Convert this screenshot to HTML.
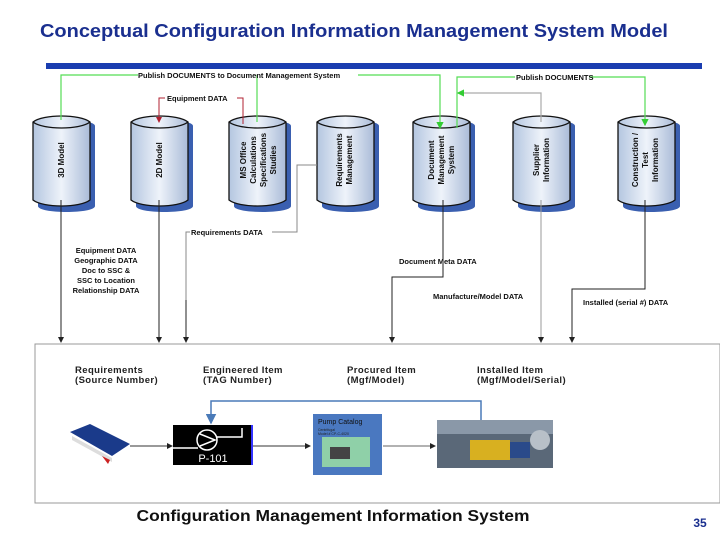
<!DOCTYPE html>
<html><head><meta charset="utf-8"><style>
html,body{margin:0;padding:0;background:#fff;width:720px;height:540px;overflow:hidden}
svg{display:block;font-family:"Liberation Sans",sans-serif}
</style></head><body>
<svg width="720" height="540" viewBox="0 0 720 540">
<defs>
<linearGradient id="cg" x1="0" y1="0" x2="1" y2="0">
<stop offset="0" stop-color="#b4c6e0"/><stop offset="0.5" stop-color="#eef3fa"/><stop offset="1" stop-color="#aabbd8"/>
</linearGradient>
<marker id="ag" markerWidth="6" markerHeight="6" refX="5" refY="3" orient="auto"><path d="M0,0L6,3L0,6z" fill="#33cc33"/></marker>
<marker id="ar" markerWidth="6" markerHeight="6" refX="5" refY="3" orient="auto"><path d="M0,0L6,3L0,6z" fill="#b02030"/></marker>
<marker id="ak" markerWidth="6" markerHeight="6" refX="5" refY="3" orient="auto"><path d="M0,0L6,3L0,6z" fill="#222"/></marker>
<marker id="ab" markerWidth="7" markerHeight="7" refX="6" refY="3.5" orient="auto"><path d="M0,0L7,3.5L0,7z" fill="#4a7ab8"/></marker>
<g id="cyl">
<path d="M5,8 C5,0 62,0 62,8 L62,88 C62,96 5,96 5,88 Z" fill="#3a5fb0"/>
<path d="M0,4 C10,-4 47,-4 57,4 L57,82 C47,90 10,90 0,82 Z" fill="url(#cg)" stroke="#111" stroke-width="1.3"/>
<path d="M0,4 C10,12 47,12 57,4" fill="none" stroke="#111" stroke-width="1.3"/>
</g>
</defs>

<text x="354" y="37" text-anchor="middle" font-size="18" font-weight="bold" fill="#1a2f8f" textLength="628" lengthAdjust="spacingAndGlyphs">Conceptual Configuration Information Management System Model</text>
<rect x="46" y="63" width="656" height="6" fill="#1a3db0"/>

<use href="#cyl" x="33" y="118"/>
<use href="#cyl" x="131" y="118"/>
<use href="#cyl" x="229" y="118"/>
<use href="#cyl" x="317" y="118"/>
<use href="#cyl" x="413" y="118"/>
<use href="#cyl" x="513" y="118"/>
<use href="#cyl" x="618" y="118"/>
<g font-size="8" font-weight="bold" fill="#111" text-anchor="middle">
<text transform="translate(64,160) rotate(-90)">3D Model</text>
<text transform="translate(162,160) rotate(-90)">2D Model</text>
<text transform="translate(246,160) rotate(-90)">MS Office</text>
<text transform="translate(256,160) rotate(-90)">Calculations</text>
<text transform="translate(266,160) rotate(-90)">Specifications</text>
<text transform="translate(276,160) rotate(-90)">Studies</text>
<text transform="translate(342,160) rotate(-90)">Requirements</text>
<text transform="translate(352,160) rotate(-90)">Management</text>
<text transform="translate(434,160) rotate(-90)">Document</text>
<text transform="translate(444,160) rotate(-90)">Management</text>
<text transform="translate(454,160) rotate(-90)">System</text>
<text transform="translate(539,160) rotate(-90)">Supplier</text>
<text transform="translate(549,160) rotate(-90)">Information</text>
<text transform="translate(638,160) rotate(-90)">Construction /</text>
<text transform="translate(648,160) rotate(-90)">Test</text>
<text transform="translate(658,160) rotate(-90)">Information</text>
</g>

<g fill="none" stroke="#55dd55" stroke-width="1.2">
<path d="M61,120 V75 H138 M358,75 H440 V128" marker-end="url(#ag)"/>
<path d="M257,122 V75"/>
<path d="M457,128 V77 H515 M589,77 H645 V125" marker-end="url(#ag)"/>
<path d="M541,122 V93 H458" stroke="#aaa" marker-end="url(#ag)"/>
</g>
<path d="M243,124 V98 H237 M165,98 H159 V122" fill="none" stroke="#b02030" stroke-width="1" marker-end="url(#ar)"/>
<g font-size="7.5" font-weight="bold" fill="#111">
<text x="138" y="78">Publish DOCUMENTS to Document Management System</text>
<text x="516" y="80">Publish DOCUMENTS</text>
<text x="167" y="101">Equipment DATA</text>
<text x="191" y="235">Requirements DATA</text>
<text x="106" y="253" text-anchor="middle">Equipment DATA</text>
<text x="106" y="263" text-anchor="middle">Geographic DATA</text>
<text x="106" y="273" text-anchor="middle">Doc to SSC &amp;</text>
<text x="106" y="283" text-anchor="middle">SSC to Location</text>
<text x="106" y="293" text-anchor="middle">Relationship DATA</text>
<text x="399" y="264">Document Meta DATA</text>
<text x="433" y="299">Manufacture/Model DATA</text>
<text x="583" y="305">Installed (serial #) DATA</text>
</g>

<g fill="none" stroke="#222" stroke-width="1">
<path d="M61,200 V342" marker-end="url(#ak)"/>
<path d="M159,200 V342" marker-end="url(#ak)"/>
<path d="M317,165 H297 V232 H272 M190,232 H186 V342" stroke="#888"/>
<path d="M186,300 V342" marker-end="url(#ak)"/>
<path d="M443,200 V277 H392 V342" marker-end="url(#ak)"/>
<path d="M541,200 V342" stroke="#999" marker-end="url(#ak)"/>
<path d="M645,200 V289 H572 V342" marker-end="url(#ak)"/>
</g>

<rect x="35" y="344" width="685" height="159" fill="#fff" stroke="#999" stroke-width="1"/>
<g font-size="9.5" font-weight="bold" fill="#222" letter-spacing="0.4">
<text x="75" y="373">Requirements</text><text x="75" y="383">(Source Number)</text>
<text x="203" y="373">Engineered Item</text><text x="203" y="383">(TAG Number)</text>
<text x="347" y="373">Procured Item</text><text x="347" y="383">(Mgf/Model)</text>
<text x="477" y="373">Installed Item</text><text x="477" y="383">(Mgf/Model/Serial)</text>
</g>
<path d="M481,420 V401 H211 V423" fill="none" stroke="#4a7ab8" stroke-width="1.5" marker-end="url(#ab)"/>
<g>
<polygon points="70,432 90,424 130,444 112,456" fill="#1a3a8a"/>
<polygon points="72,436 112,458 112,462 72,440" fill="#ddd"/>
<polygon points="102,456 110,460 108,464" fill="#c22"/>
</g>
<g stroke="#333" stroke-width="1" fill="none">
<path d="M130,446 H172" marker-end="url(#ak)"/>
<path d="M252,446 H310" marker-end="url(#ak)"/>
<path d="M383,446 H435" stroke="#666" marker-end="url(#ak)"/>
</g>
<rect x="173" y="425" width="80" height="40" fill="#000"/>
<rect x="251" y="425" width="2" height="40" fill="#33f"/>
<circle cx="207" cy="440" r="10" fill="none" stroke="#fff" stroke-width="1.5"/>
<path d="M200,434 L215,440 L200,446 M173,448 H198 M217,437 H242 V428" fill="none" stroke="#fff" stroke-width="1.5"/>
<text x="213" y="462" text-anchor="middle" font-size="11" fill="#fff">P-101</text>
<rect x="313" y="414" width="69" height="61" fill="#4a78c0"/>
<text x="318" y="424" font-size="7" fill="#111">Pump Catalog</text>
<text x="318" y="431" font-size="3.5" fill="#222">Centrifugal</text>
<text x="318" y="435" font-size="3.5" fill="#222">Model # CP-C-4020</text>
<rect x="322" y="437" width="48" height="30" fill="#8fd0a8"/>
<rect x="330" y="447" width="20" height="12" fill="#444"/>
<rect x="437" y="420" width="116" height="48" fill="#5a6878"/>
<rect x="437" y="420" width="116" height="14" fill="#8a98a8"/>
<rect x="470" y="440" width="40" height="20" fill="#d8b020"/>
<rect x="510" y="442" width="20" height="16" fill="#2a4a8a"/>
<circle cx="540" cy="440" r="10" fill="#b8c0c8"/>

<text x="333" y="521" text-anchor="middle" font-size="16" font-weight="bold" fill="#111" textLength="393" lengthAdjust="spacingAndGlyphs">Configuration Management Information System</text>
<text x="700" y="527" text-anchor="middle" font-size="12" font-weight="bold" fill="#1a2f8f">35</text>
</svg>
</body></html>
